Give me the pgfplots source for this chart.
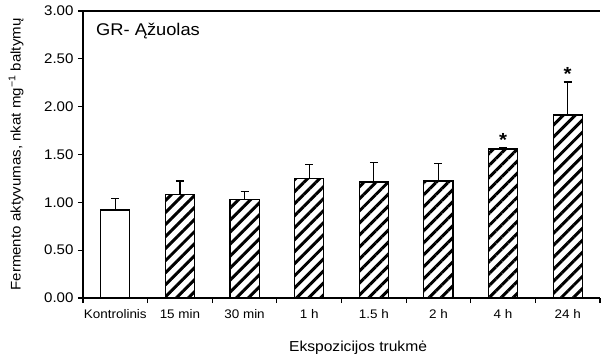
\documentclass[border=0pt]{standalone}
\usepackage{pgfplots}
\pgfplotsset{compat=1.18}
\usepackage{pgfplotstable}
\usepackage{fontspec}
\setmainfont{Liberation Sans}[FakeStretch=1.08]
\usetikzlibrary{patterns.meta}

% x = bar centre, y = mean activity, e = standard error (upper bar only)
\pgfplotstableread{
x   y      e
0.5 0.920  0.122
}\control
\pgfplotstableread{
x   y      e
1.5 1.084  0.139
2.5 1.032  0.079
3.5 1.247  0.151
4.5 1.212  0.206
5.5 1.223  0.181
6.5 1.557  0.014
7.5 1.913  0.345
}\exposure

\begin{document}
\begin{tikzpicture}
\begin{axis}[
  scale only axis, width=517bp, height=287bp,
  xmin=0, xmax=8, ymin=0, ymax=3,
  clip=false,
  axis x line*=bottom, axis y line*=left,
  axis line style={line width=1.3bp, -},
  tick align=outside,
  major tick length=5bp,
  tick style={line width=1.1bp, black},
  xtick={0,1,...,8},
  x tick label as interval,
  xticklabels={Kontrolinis,15 min,30 min,1 h,1.5 h,2 h,4 h,24 h},
  ytick={0,0.5,...,3},
  /pgf/number format/assume math mode=true,
  yticklabel={\fontsize{14}{16}\selectfont\pgfmathprintnumber[fixed,fixed zerofill,precision=2]{\tick}},
  yticklabel style={xshift=-1bp},
  xticklabel style={anchor=base, yshift=-15bp, font=\fontsize{12.5}{14}\selectfont},
  xlabel={Ekspozicijos trukmė},
  xlabel style={at={(axis description cs:0.532,0)}, anchor=base, yshift=-53.7bp,
                font=\fontsize{14.5}{16}\selectfont},
  ylabel={Fermento aktyvumas, nkat mg\textsuperscript{−1} baltymų},
  ylabel style={at={(axis description cs:-0.1296,0.5)}, anchor=center,
                font=\fontsize{14}{16}\selectfont},
  error bars/y dir=plus,
  error bars/y explicit,
  error bars/error bar style={line width=1.3bp, black},
  error bars/error mark options={rotate=90, line width=1.3bp, black, mark size=4bp},
]
\addplot[ybar, bar width=0.45, bar shift=0pt, draw=black, line width=1.2bp, fill=white]
  table[x=x, y=y, y error=e] {\control};
\addplot[ybar, bar width=0.45, bar shift=0pt, draw=black, line width=1.2bp,
  fill=white, postaction={pattern={Lines[angle=45, distance=8.5bp, line width=3bp]}, pattern color=black}]
  table[x=x, y=y, y error=e] {\exposure};
% significance marks above the 4 h and 24 h error bars
\addplot[draw=none, mark=none, nodes near coords={\bfseries *},
  every node near coord/.append style={anchor=south, inner sep=0pt, yshift=1bp,
    font=\fontsize{19}{20}\selectfont}]
  coordinates {(6.5,1.571) (7.5,2.258)};
\draw[line width=1.3bp] (rel axis cs:0,1) -- (rel axis cs:1,1);
\node[anchor=west, font=\fontsize{17}{20}\selectfont] at (axis cs:0.15,2.795) {GR- Ąžuolas};
\end{axis}
\pgfresetboundingbox
\useasboundingbox (-83bp,-56bp) rectangle (518bp,298bp);
\end{tikzpicture}
\end{document}
